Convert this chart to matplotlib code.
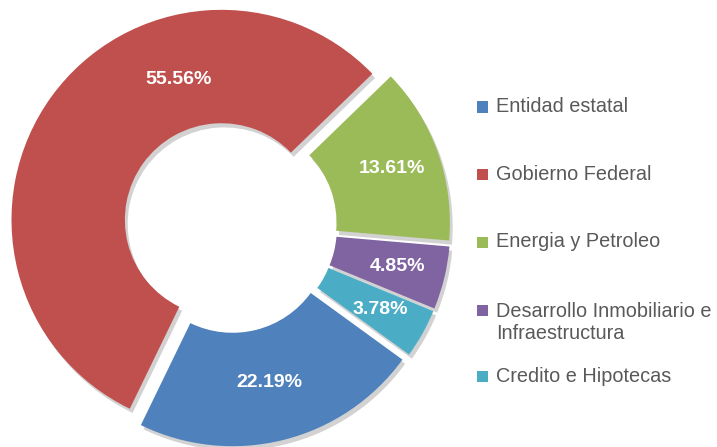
import numpy as np
import matplotlib
matplotlib.use('Agg')
import matplotlib.pyplot as plt
from matplotlib.patches import Rectangle
import matplotlib.patheffects as pe

# datos
categorias = ['Entidad estatal', 'Gobierno Federal', 'Energia y Petroleo',
              'Desarrollo Inmobiliario e\nInfraestructura', 'Credito e Hipotecas']
porcentajes = [22.19, 55.56, 13.61, 4.85, 3.78]
colores = ['#4F81BD', '#C0504D', '#9BBB59', '#8064A2', '#4BACC6']

W, H = 717, 447
R = 210.0          # radio en pixeles
cx, cy = 230, 226  # centro en pixeles (desde arriba)

fig = plt.figure(figsize=(W / 100, H / 100), dpi=100)
ax = fig.add_axes([0, 0, 460 / W, 1])

wedges, textos, autotextos = ax.pie(
    porcentajes, colors=colores, startangle=-36, counterclock=False,
    explode=[0.05] * 5, radius=1.0, autopct='%.2f%%', pctdistance=0.77,
    wedgeprops=dict(width=0.54, linewidth=0),
    textprops=dict(color='white', fontsize=14, fontweight='bold',
                   family='Liberation Sans'))

for w in wedges:
    w.set_path_effects([pe.SimplePatchShadow(offset=(2, -3), shadow_rgbFace='#7f7f7f', alpha=0.35),
                        pe.Normal()])

for t, v in zip(autotextos, porcentajes):
    t.set_text(f'{v:.2f}%')

# la etiqueta grande va mas arriba, como en Excel
w = wedges[1]
r_lab = 0.70
ang = np.deg2rad(107)
autotextos[1].set_position((w.center[0] + r_lab * np.cos(ang), w.center[1] + r_lab * np.sin(ang)))
# la azul un poco mas adentro
w = wedges[0]
a0 = np.deg2rad((w.theta1 + w.theta2) / 2)
autotextos[0].set_position((w.center[0] + 0.72 * np.cos(a0), w.center[1] + 0.72 * np.sin(a0)))

ax.set_xlim(-cx / R, (460 - cx) / R)
ax.set_ylim(-(H - cy) / R, cy / R)
ax.set_aspect('auto')
ax.axis('off')

# leyenda manual
filas_y = [107, 174, 242, 310, 376]
linea_px = 25
for nombre, col, y in zip(categorias, colores, filas_y):
    fig.patches.append(Rectangle((477 / W, 1 - (y + 5.5) / H), 11 / W, 11 / H,
                                 transform=fig.transFigure, facecolor=col,
                                 edgecolor='none'))
    n = nombre.count('\n')
    yc = y + n * linea_px / 2
    fig.text(496 / W, 1 - yc / H, nombre, ha='left', va='center',
             fontsize=14.3, color='#595959', family='Liberation Sans',
             linespacing=1.25)

fig.savefig('out.png', dpi=100)
